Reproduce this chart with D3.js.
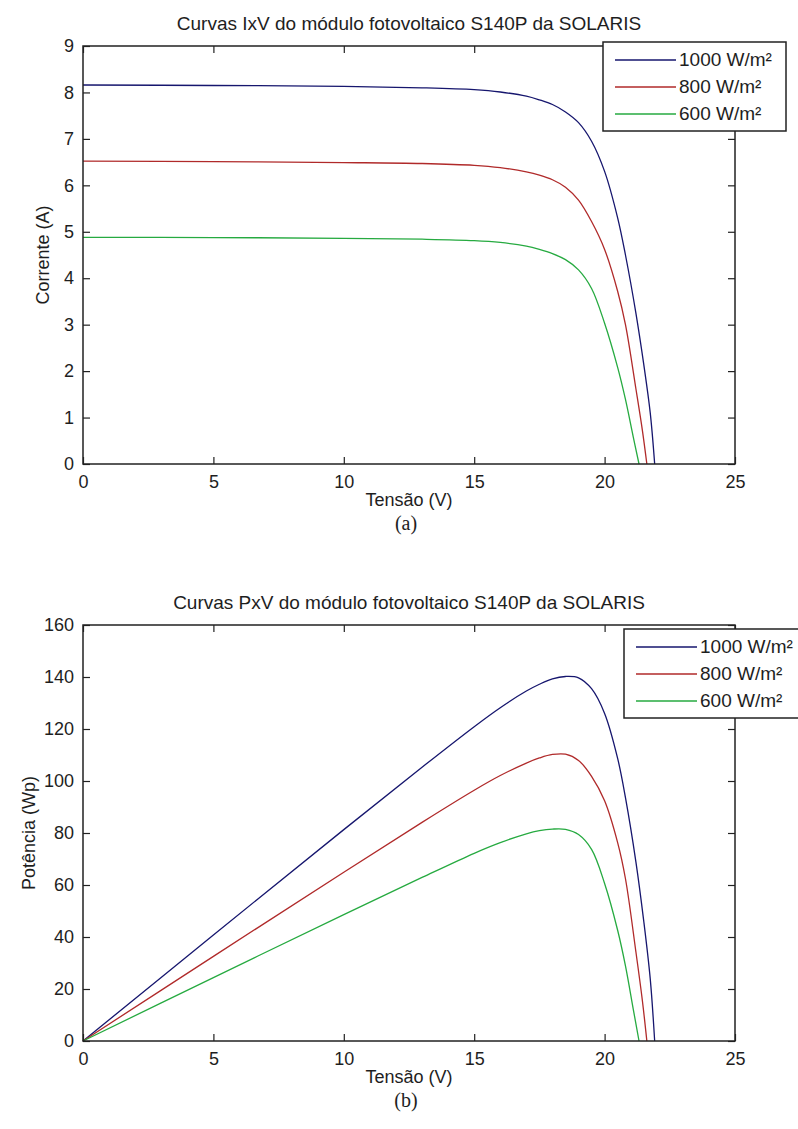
<!DOCTYPE html>
<html>
<head>
<meta charset="utf-8">
<script src="https://cdn.jsdelivr.net/npm/d3@7"></script>
<style>
  html, body { margin: 0; padding: 0; background: #fff; }
  svg text { font-family: "Liberation Sans", Arial, sans-serif; fill: #1e1e1e; }
</style>
</head>
<body>
<svg id="chart" width="798" height="1129"></svg>
<script>
// legend entries and line colours
const irradiancias = ['1000 W/m²', '800 W/m²', '600 W/m²'];
const cores = ['#16166e', '#b02a2a', '#26aa40'];

// 1000 W/m²
const tensao1000 = [0, 5, 10, 13, 15, 16, 17, 17.5, 18, 18.5, 19, 19.5, 20, 20.5, 20.8, 21.2, 21.5, 21.75, 21.92];
const corrente1000 = [8.16, 8.15, 8.13, 8.10, 8.06, 8.01, 7.92, 7.84, 7.74, 7.58, 7.35, 6.95, 6.30, 5.30, 4.50, 3.25, 2.15, 1.10, 0];
const potencia1000 = [0, 40.75, 81.3, 105.3, 120.9, 128.2, 134.6, 137.2, 139.3, 140.2, 139.7, 135.5, 126.0, 108.7, 93.6, 68.9, 46.2, 23.9, 0];

// 800 W/m²
const tensao800 = [0, 5, 10, 13, 15, 16, 17, 17.5, 18, 18.5, 19, 19.5, 20, 20.5, 20.8, 21.2, 21.45, 21.62];
const corrente800 = [6.52, 6.51, 6.49, 6.47, 6.43, 6.38, 6.29, 6.22, 6.12, 5.96, 5.68, 5.22, 4.62, 3.72, 3.00, 1.62, 0.72, 0];
const potencia800 = [0, 32.55, 64.9, 84.1, 96.45, 102.1, 106.9, 108.85, 110.2, 110.3, 107.9, 101.8, 92.4, 76.3, 62.4, 34.3, 15.4, 0];

// 600 W/m²
const tensao600 = [0, 5, 10, 13, 15, 16, 17, 17.5, 18, 18.5, 19, 19.5, 20, 20.5, 20.8, 21.1, 21.32];
const corrente600 = [4.88, 4.875, 4.86, 4.84, 4.81, 4.77, 4.69, 4.62, 4.53, 4.40, 4.18, 3.78, 3.03, 2.08, 1.39, 0.58, 0];
const potencia600 = [0, 24.4, 48.6, 62.9, 72.2, 76.3, 79.7, 80.9, 81.5, 81.4, 79.4, 73.7, 60.6, 42.6, 28.9, 12.2, 0];

// axis ticks
const ticksTensao = [0, 5, 10, 15, 20, 25];
const ticksCorrente = [0, 1, 2, 3, 4, 5, 6, 7, 8, 9];
const ticksPotencia = [0, 20, 40, 60, 80, 100, 120, 140, 160];

const svg = d3.select('#chart');

const plotLeft = 83;
const plotWidth = 652;
const tickLen = 7;

function desenharPainel(cfg) {
  const g = svg.append('g')
    .attr('transform', `translate(${plotLeft},${cfg.top})`);

  const x = d3.scaleLinear().domain([0, 25]).range([0, plotWidth]);
  const y = d3.scaleLinear().domain(cfg.yDomain).range([cfg.height, 0]);

  // curves
  const linha = d3.line()
    .x(d => x(d[0]))
    .y(d => y(d[1]))
    .curve(d3.curveCatmullRom.alpha(0.5));

  cfg.series.forEach((s, i) => {
    g.append('path')
      .datum(d3.zip(s.v, s.y))
      .attr('fill', 'none')
      .attr('stroke', cores[i])
      .attr('stroke-width', 1.3)
      .attr('d', linha);
  });

  // axes, MATLAB style: ticks inside on all four sides
  const eixoBaixo = d3.axisBottom(x).tickValues(ticksTensao).tickSizeInner(-tickLen).tickSizeOuter(0).tickPadding(tickLen + 4);
  const eixoTopo = d3.axisTop(x).tickValues(ticksTensao).tickSizeInner(-tickLen).tickSizeOuter(0).tickFormat('');
  const eixoEsq = d3.axisLeft(y).tickValues(cfg.yTicks).tickSizeInner(-tickLen).tickSizeOuter(0).tickPadding(tickLen + 2);
  const eixoDir = d3.axisRight(y).tickValues(cfg.yTicks).tickSizeInner(-tickLen).tickSizeOuter(0).tickFormat('');

  const estilo = sel => {
    sel.select('.domain').remove();
    sel.selectAll('line').attr('stroke', '#222').attr('stroke-width', 1.2);
    sel.selectAll('text').attr('font-size', 18).attr('fill', '#1e1e1e');
  };

  g.append('g').attr('transform', `translate(0,${cfg.height})`).call(eixoBaixo).call(estilo);
  g.append('g').call(eixoTopo).call(estilo);
  g.append('g').call(eixoEsq).call(estilo);
  g.append('g').attr('transform', `translate(${plotWidth},0)`).call(eixoDir).call(estilo);

  g.append('rect')
    .attr('width', plotWidth)
    .attr('height', cfg.height)
    .attr('fill', 'none')
    .attr('stroke', '#222')
    .attr('stroke-width', 1.5);

  // title and axis labels
  g.append('text')
    .attr('x', plotWidth / 2)
    .attr('y', -16)
    .attr('text-anchor', 'middle')
    .attr('font-size', 19)
    .text(cfg.titulo);

  g.append('text')
    .attr('x', plotWidth / 2)
    .attr('y', cfg.height + 42)
    .attr('text-anchor', 'middle')
    .attr('font-size', 18)
    .text('Tensão (V)');

  g.append('text')
    .attr('transform', `translate(${cfg.yLabelX},${cfg.height / 2}) rotate(-90)`)
    .attr('text-anchor', 'middle')
    .attr('font-size', 18)
    .text(cfg.yLabel);

  g.append('text')
    .attr('x', plotWidth / 2 - 3)
    .attr('y', cfg.height + 66)
    .attr('text-anchor', 'middle')
    .attr('font-size', 20)
    .style('font-family', '"Liberation Serif", "Times New Roman", serif')
    .text(cfg.legenda);

  // legend box
  const leg = svg.append('g')
    .attr('transform', `translate(${cfg.legX},${cfg.legY})`);

  leg.append('rect')
    .attr('width', 183)
    .attr('height', 89)
    .attr('fill', '#fff')
    .attr('stroke', '#222')
    .attr('stroke-width', 1.5);

  irradiancias.forEach((nome, i) => {
    const yy = 18 + i * 27;
    leg.append('line')
      .attr('x1', 12).attr('x2', 73)
      .attr('y1', yy).attr('y2', yy)
      .attr('stroke', cores[i])
      .attr('stroke-width', 1.3);
    leg.append('text')
      .attr('x', 76)
      .attr('y', yy + 6)
      .attr('font-size', 19)
      .text(nome);
  });
}

desenharPainel({
  top: 46,
  height: 418,
  yDomain: [0, 9],
  yTicks: ticksCorrente,
  titulo: 'Curvas IxV do módulo fotovoltaico S140P da SOLARIS',
  yLabel: 'Corrente (A)',
  yLabelX: -34,
  legenda: '(a)',
  legX: 603,
  legY: 42,
  series: [
    { v: tensao1000, y: corrente1000 },
    { v: tensao800, y: corrente800 },
    { v: tensao600, y: corrente600 }
  ]
});

desenharPainel({
  top: 625,
  height: 416,
  yDomain: [0, 160],
  yTicks: ticksPotencia,
  titulo: 'Curvas PxV do módulo fotovoltaico S140P da SOLARIS',
  yLabel: 'Potência (Wp)',
  yLabelX: -48,
  legenda: '(b)',
  legX: 624,
  legY: 629,
  series: [
    { v: tensao1000, y: potencia1000 },
    { v: tensao800, y: potencia800 },
    { v: tensao600, y: potencia600 }
  ]
});
</script>
</body>
</html>
